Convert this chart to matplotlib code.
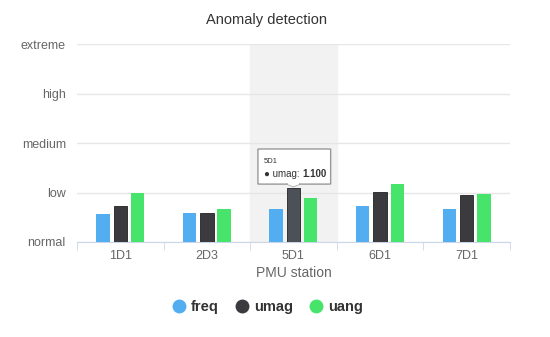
import numpy as np
import matplotlib.pyplot as plt
from matplotlib.lines import Line2D
from matplotlib.patches import FancyBboxPatch

plt.rcParams["font.family"] = ["Liberation Sans", "DejaVu Sans"]

stations = ["1D1", "2D3", "5D1", "6D1", "7D1"]
levels = ["normal", "low", "medium", "high", "extreme"]
freq = [0.56, 0.59, 0.66, 0.72, 0.66]
umag = [0.73, 0.59, 1.10, 1.01, 0.95]
uang = [1.00, 0.66, 0.88, 1.18, 0.96]

series = [("freq", freq, "#52aef0"), ("umag", umag, "#3b3b3f"), ("uang", uang, "#47e46c")]

fig = plt.figure(figsize=(5.5, 3.37), dpi=100)
ax = fig.add_axes([0.14, 0.282, 0.787, 0.587])

x = np.arange(len(stations))
hover = 2
ax.axvspan(hover - 0.5, hover + 0.5, color="#f2f2f2", zorder=0)

w = 0.155
for i, (name, vals, col) in enumerate(series):
    cols = [col] * len(vals)
    if name == "umag":
        cols[hover] = "#4c5158"
    ax.bar(x + (i - 1) * 0.2, vals, width=w, color=cols, zorder=3,
           edgecolor="#222222" if name == "umag" else "none", linewidth=0.6)

ax.set_xlim(-0.5, len(stations) - 0.5)
ax.set_ylim(0, 4)
ax.set_yticks(range(len(levels)))
ax.set_yticklabels(levels)
ax.set_xticks(x)
ax.set_xticklabels(stations)
ax.set_xticks(np.arange(-0.5, len(stations)), minor=True)
ax.tick_params(axis="x", which="major", length=0, pad=6, labelsize=9, colors="#666666")
ax.tick_params(axis="x", which="minor", length=6, color="#ccd6eb", direction="out")
ax.tick_params(axis="y", length=0, pad=8, labelsize=9, colors="#666666")
ax.grid(axis="y", color="#e6e6e6", linewidth=1, zorder=1)
for s in ["left", "right", "top"]:
    ax.spines[s].set_visible(False)
ax.spines["bottom"].set_color("#ccd6eb")
ax.set_xlabel("PMU station", fontsize=10, color="#666666", labelpad=3)
fig.text(0.484, 0.94, "Anomaly detection", ha="center", va="center", fontsize=10.5, color="#333333")

# tooltip
bx, by = hover, umag[hover]
tip = FancyBboxPatch((1.59, 1.17), 0.84, 0.71, boxstyle="round,pad=0,rounding_size=0.03",
                     transform=ax.transData, facecolor="white", edgecolor="#999999",
                     linewidth=1, zorder=6, mutation_aspect=1 / 6)
ax.add_patch(tip)
ax.plot([bx - 0.07, bx, bx + 0.07], [1.17, by + 0.02, 1.17], color="#999999", lw=1, zorder=7)
ax.fill([bx - 0.065, bx, bx + 0.065], [1.18, by + 0.035, 1.18], color="white", zorder=7)
ax.text(1.66, 1.63, "5D1", fontsize=5.5, color="#333333", zorder=8, va="center")
t1 = ax.text(1.66, 1.38, "\u25cf umag: ", fontsize=7, color="#333333", zorder=8, va="center")
ax.annotate("1.100", xy=(1, 0.5), xycoords=t1, va="center", ha="left",
            fontsize=7, fontweight="bold", color="#333333", zorder=8)

handles = [Line2D([], [], marker="o", linestyle="none", markersize=10,
                  markerfacecolor=c, markeredgecolor="none") for _, _, c in series]
leg = fig.legend(handles, [n for n, _, _ in series], loc="center", bbox_to_anchor=(0.482, 0.089),
                 ncol=3, frameon=False, handletextpad=0.0, columnspacing=0.8,
                 handlelength=1.6, prop={"weight": "bold", "size": 10.5})
for t in leg.get_texts():
    t.set_color("#333333")

fig.savefig("out.png", dpi=100)
